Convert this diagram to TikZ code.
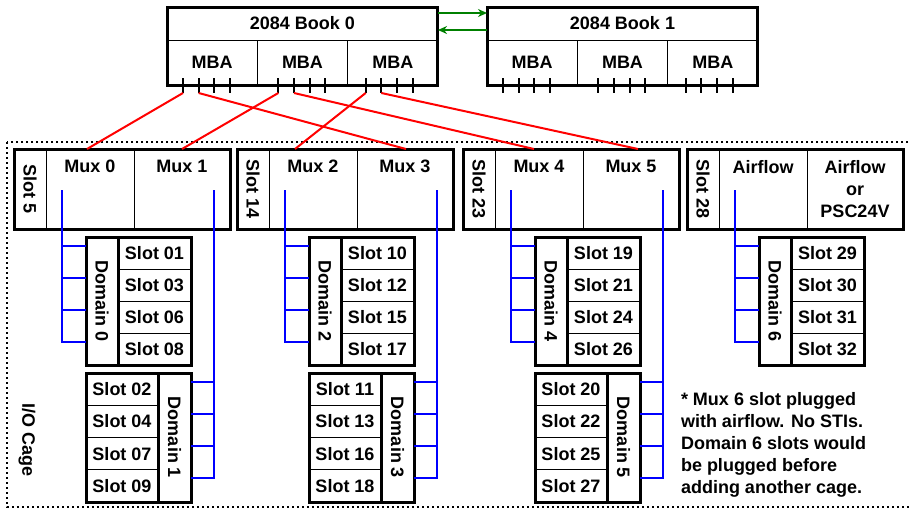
\documentclass[tikz,border=0pt]{standalone}
\usepackage{fontspec}
\setmainfont{Liberation Sans}
\usepackage{graphicx}
\usetikzlibrary{calc, positioning, arrows.meta}
\definecolor{qpigreen}{RGB}{0,128,0}

\begin{document}
\begin{tikzpicture}
[
    x = 1pt, y = -1pt,
    every node/.style = {inner sep = 0pt, outer sep = 0pt, font = \fontsize{18}{22}\selectfont\bfseries},
    cell/.style  = {draw, line width = 0.9pt, anchor = north west},
    frame/.style = {draw, line width = 3pt},
    tick/.style  = {line width = 2pt},
    link/.style  = {red, line width = 2pt},
    bus/.style   = {blue, line width = 1.8pt},
    qpi/.style   = {qpigreen, line width = 2pt, -{Stealth[length = 9pt, width = 8pt]}},
    cage/.style  = {line width = 2pt, dash pattern = on 2pt off 3pt}
  ]

  \useasboundingbox (0,0) rectangle (910,509);

  % I/O cage outline
  \draw[cage] (7,142) rectangle (930,507);
  \node[rotate = -90] (cagelabel) at (27,440) {I/O Cage};

  % books with their MBAs
  \foreach \b/\bx in {0/167, 1/487} {
    \node[cell, minimum width = 271pt, minimum height = 33pt] (book\b) at (\bx,7) {2084 Book \b};
    \node[cell, minimum width = 90.33pt, minimum height = 45pt] (mba\b1) at (\bx,40) {MBA};
    \node[cell, minimum width = 90.33pt, minimum height = 45pt, right = 0pt of mba\b1] (mba\b2) {MBA};
    \node[cell, minimum width = 90.33pt, minimum height = 45pt, right = 0pt of mba\b2] (mba\b3) {MBA};
    \draw[frame] (book\b.north west) rectangle (mba\b3.south east);
    \foreach \m/\o in {1/16, 2/21, 3/18}
      \foreach \t in {1,...,4} {
        \coordinate (tick\b\m\t) at ($(mba\b\m.south west)+(\o+15.67*\t-15.67,8)$);
        \draw[tick] ($(mba\b\m.south west)+(\o+15.67*\t-15.67,-7)$) -- (tick\b\m\t);
      }
  }

  \draw[qpi] ([yshift = 10.5pt]book0.east) -- ([yshift = 10.5pt]book1.west);
  \draw[qpi] ([yshift = -6.5pt]book1.west) -- ([yshift = -6.5pt]book0.east);

  % mux cards
  \foreach \g/\L/\sl/\ma/\mb in {0/14/5/{Mux 0}/{Mux 1}, 1/237/14/{Mux 2}/{Mux 3},
                                  2/463/23/{Mux 4}/{Mux 5}, 3/687/28/{Airflow}/{Airflow\\or\\PSC24V}} {
    \node[cell, minimum width = 32pt, minimum height = 80pt] (slotcol\g) at (\L,149) {\rotatebox{-90}{Slot \sl}};
    \node[cell, minimum width = 88pt, minimum height = 80pt, right = 0pt of slotcol\g] (muxa\g) {};
    \node[cell, minimum width = 96pt, minimum height = 80pt, right = 0pt of muxa\g] (muxb\g) {};
    \node[anchor = north] (labela\g) at ([yshift = -11pt]muxa\g.north) {\ma};
    \node[anchor = north, align = center] (labelb\g) at ([yshift = -11pt]muxb\g.north) {\mb};
    \draw[frame] (slotcol\g.north west) rectangle (muxb\g.south east);
  }

  % upper domains
  \foreach \g/\L/\d/\slots in {0/14/0/{01,03,06,08}, 1/237/2/{10,12,15,17},
                               2/463/4/{19,21,24,26}, 3/687/6/{29,30,31,32}} {
    \node[cell, minimum width = 32pt, minimum height = 128pt] (dom\d) at (\L+72,237) {\rotatebox{-90}{Domain \d}};
    \foreach \s [count = \k] in \slots
      \node[cell, minimum width = 73pt, minimum height = 32pt] (s\s) at ($(dom\d.north east)+(0,32*\k-32)$) {Slot \s};
    \draw[frame] (dom\d.north west) rectangle ($(dom\d.south east)+(73,0)$);
    \draw[frame] (dom\d.north east) -- (dom\d.south east);
    \coordinate (busa\g) at ($(muxa\g.north west)+(16,41)$);
    \foreach \k in {0,...,3}
      \draw[bus] (busa\g) |- ($(dom\d.north west)+(0,9+32*\k)$);
  }

  % lower domains
  \foreach \g/\L/\d/\slots in {0/14/1/{02,04,07,09}, 1/237/3/{11,13,16,18}, 2/463/5/{20,22,25,27}} {
    \node[cell, minimum width = 33pt, minimum height = 129pt] (dom\d) at (\L+144,373) {\rotatebox{-90}{Domain \d}};
    \foreach \s [count = \k] in \slots
      \node[cell, anchor = north east, minimum width = 72pt, minimum height = 32.25pt] (s\s) at ($(dom\d.north west)+(0,32.25*\k-32.25)$) {Slot \s};
    \draw[frame] ($(dom\d.north west)+(-72,0)$) rectangle (dom\d.south east);
    \draw[frame] (dom\d.north west) -- (dom\d.south west);
    \coordinate (busb\g) at ($(muxb\g.north west)+(80,41)$);
    \foreach \k in {0,...,3}
      \draw[bus] (busb\g) |- ($(dom\d.north east)+(0,9+32*\k)$);
  }

  % MBA to mux links
  \draw[link] (tick011) -- ([xshift = -3pt]muxa0.north);
  \draw[link] (tick021) -- (muxb0.north);
  \draw[link] (tick031) -- ([xshift = -18pt]muxa1.north);
  \draw[link] (tick012) -- ([xshift = 1pt]muxb1.north);
  \draw[link] (tick022) -- ([xshift = -5pt]muxa2.north);
  \draw[link] (tick032) -- ([xshift = 7pt]muxb2.north);

  \node[anchor = north west, align = left] (note) at (681,392)
    {* Mux 6 slot plugged\\with airflow. No STIs.\\Domain 6 slots would\\be plugged before\\adding another cage.};

\end{tikzpicture}
\end{document}
